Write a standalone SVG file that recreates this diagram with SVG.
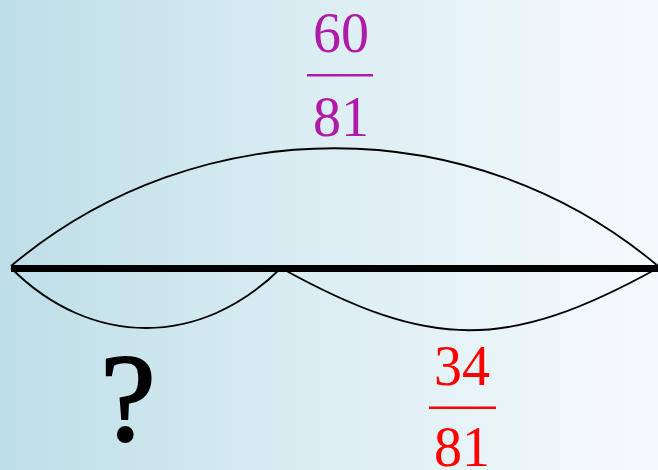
<svg xmlns="http://www.w3.org/2000/svg" width="658" height="470" viewBox="0 0 658 470">
<defs>
<linearGradient id="bg" x1="0" y1="0" x2="1" y2="0">
<stop offset="0" stop-color="#BEDEE8"/>
<stop offset="0.5" stop-color="#DCEEF3"/>
<stop offset="1" stop-color="#F6FAFC"/>
</linearGradient>
<style>
.arc{fill:none;stroke:#000;stroke-width:1.8}
.num{font-family:"Liberation Serif","Times New Roman",serif;font-size:56px;text-anchor:middle}
</style>
</defs>
<rect width="658" height="470" fill="url(#bg)"/>
<g id="connectors">
<path class="arc" d="M11,266 C198,109 471,109 658,266"/>
<path class="arc" d="M11,268 C91,348 201,348 281,268"/>
<path class="arc" d="M281,268 C431,351 508,351 658,268"/>
<line x1="11" y1="268.5" x2="658" y2="268.5" stroke="#000" stroke-width="7"/>
</g>
<g id="total" fill="#B01AA8">
<text class="num" x="341" y="52" fill="#B01AA8">60</text>
<rect x="307" y="74" width="66" height="2.5"/>
<text class="num" x="341" y="136" fill="#B01AA8">81</text>
</g>
<g id="part" fill="#F00">
<text class="num" x="462" y="385" fill="#F00">34</text>
<rect x="429" y="406.5" width="67" height="2.5"/>
<text class="num" x="462" y="466" fill="#F00">81</text>
</g>
<g id="unknown">
<text x="128" y="440" font-family="Liberation Serif,'Times New Roman',serif" font-size="124" stroke="#000" stroke-width="2.2" text-anchor="middle" fill="#000">?</text>
</g>
</svg>
